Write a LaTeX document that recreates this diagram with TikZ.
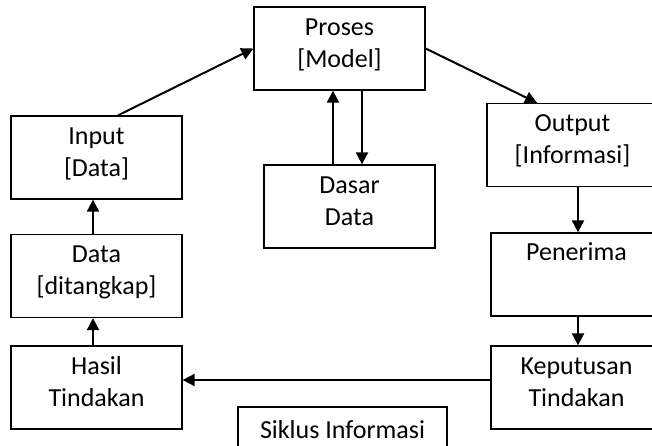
\documentclass[tikz,border=0pt]{standalone}
\usepackage{fontspec}
\setmainfont{Carlito}
\usetikzlibrary{arrows.meta}

\begin{document}
\begin{tikzpicture}[x=1pt, y=-1pt,
  box/.style={draw=black, line width=1.3pt, rectangle, inner sep=0pt,
    minimum width=171pt, minimum height=83pt},
  label/.style={anchor=base, inner sep=0pt, align=center,
    font=\fontsize{26}{32}\selectfont},
  flow/.style={line width=2pt, -{Triangle[length=12pt, width=12pt]}}
]
\useasboundingbox (0,0) rectangle (652,445);
\clip (0,0) rectangle (652,445);

% boxes of the cycle
\node[box] (pro) at (339.5,48.5) {};
\node[box] (inp) at (96.5,157.5) {};
\node[box] (das) at (349.5,206.5) {};
\node[box] (out) at (572.5,145) {};
\node[box] (dat) at (96.5,276) {};
\node[box] (pen) at (576.5,274.5) {};
\node[box] (has) at (96.5,387.5) {};
\node[box] (kep) at (576.5,387.5) {};
\node[box, minimum width=209pt, minimum height=50pt] (sik) at (342.5,432) {};

% texts, top aligned inside their boxes (base = last line's baseline)
\node[label] (proT) at ([yshift=-61pt]pro.north) {Proses\\{[Model]}};
\node[label] (inpT) at ([yshift=-61pt]inp.north) {Input\\{[Data]}};
\node[label] (dasT) at ([yshift=-61pt]das.north) {Dasar\\Data};
\node[label] (outT) at ([yshift=-61pt]out.north) {Output\\{[Informasi]}};
\node[label] (datT) at ([yshift=-61pt]dat.north) {Data\\{[ditangkap]}};
\node[label] (penT) at ([yshift=-28pt]pen.north) {Penerima};
\node[label] (hasT) at ([yshift=-61pt]has.north) {Hasil\\Tindakan};
\node[label] (kepT) at ([yshift=-61pt]kep.north) {Keputusan\\Tindakan};
\node[label] (sikT) at ([yshift=-32pt]sik.north) {Siklus Informasi};

% connectors
\draw[flow] ([xshift=21.5pt]inp.north) -- (pro.west);
\draw[flow] (pro.east) -- ([xshift=-35.5pt]out.north);
\draw[flow] ([xshift=22.5pt]pro.south) -- ([xshift=22.5pt]pro.south |- das.north);
\draw[flow] ([xshift=-16.5pt]das.north) -- ([xshift=-16.5pt]das.north |- pro.south);
\draw[flow] ([xshift=1.5pt]pen.north |- out.south) -- ([xshift=1.5pt]pen.north);
\draw[flow] ([xshift=1.5pt]pen.south) -- ([xshift=1.5pt]kep.north);
\draw[flow] ([yshift=7.5pt]kep.west) -- ([yshift=7.5pt]has.east);
\draw[flow] ([xshift=-3.5pt]has.north) -- ([xshift=-3.5pt]dat.south);
\draw[flow] ([xshift=-3.5pt]dat.north) -- ([xshift=-3.5pt]inp.south);
\end{tikzpicture}
\end{document}
